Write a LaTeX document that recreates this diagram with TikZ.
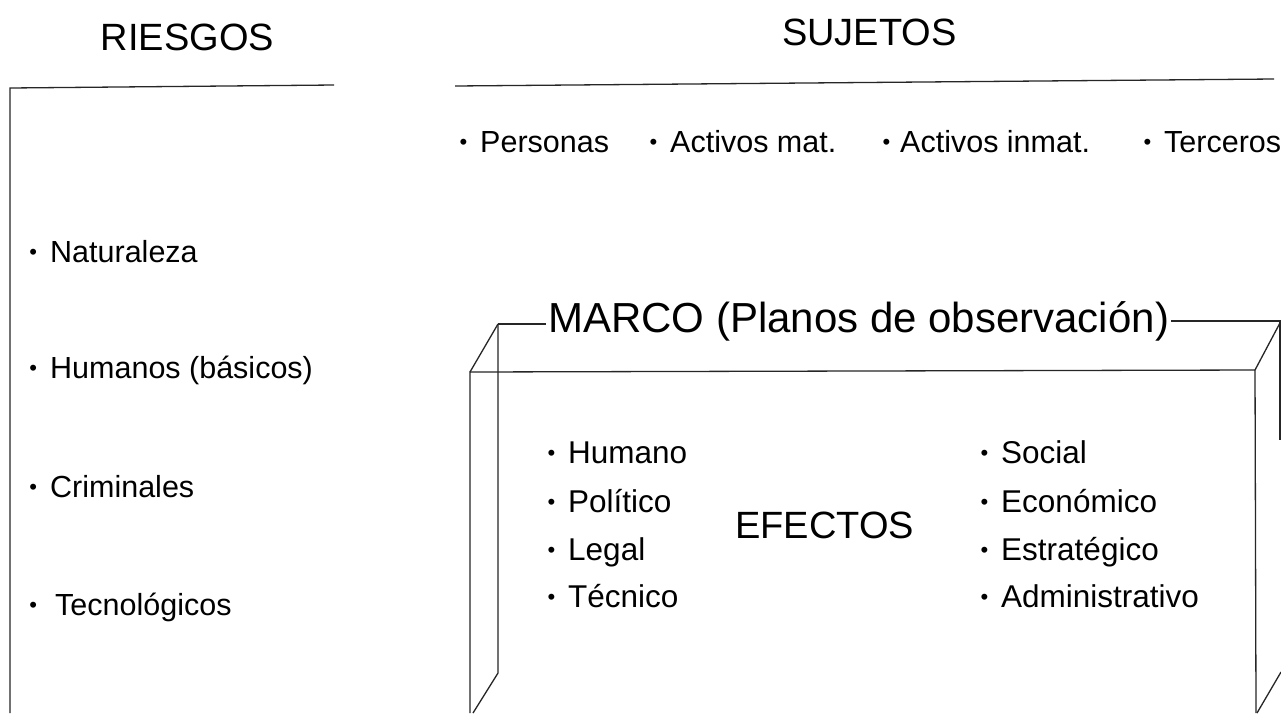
\documentclass[tikz,border=0pt]{standalone}
\usepackage{fontspec}
\setmainfont{Liberation Sans}
\newcommand{\bulg}[1]{\llap{\fontsize{22pt}{22pt}\selectfont\raisebox{2.5pt}{•}\hspace{#1}}}
\newcommand{\bul}{\bulg{13pt}}
\tikzset{
  ln/.style={line width=1.3pt, draw=black!85},
  ttl/.style={inner sep=0pt, anchor=base, font=\fontsize{38pt}{41pt}\selectfont},
  itm/.style={inner sep=0pt, anchor=base west, font=\fontsize{30.5pt}{33pt}\selectfont},
  eit/.style={inner sep=0pt, anchor=base west, font=\fontsize{31.5pt}{34pt}\selectfont},
}
\begin{document}
\begin{tikzpicture}[x=1pt,y=-1pt]
\useasboundingbox (0,0) rectangle (1281,713);
\fill[white] (0,0) rectangle (1281,713);

% titles
\node[ttl] (riesgos) at (187.5,50) {RIESGOS};
\node[ttl, anchor=base west] (sujetos) at (782,45) {SUJETOS};

% left box
\coordinate (lb) at (10,713);
\coordinate (ltl) at (10,88);
\coordinate (ltr) at (334,85);
\draw[ln] (lb) -- (ltl) -- (ltr);

% sujetos line
\coordinate (sl) at (455,86);
\coordinate (sr) at (1274,79);
\draw[ln] (sl) -- (sr);

% sujetos row
\node[itm] (personas) at (480,152) {\bul Personas};
\node[itm] (activm) at (670,152) {\bul Activos mat.};
\node[itm] (activi) at (900,152) {\bulg{10pt}Activos inmat.};
\node[itm] (terceros) at (1164,152) {\bul Terceros};

% left list
\node[itm] (natur) at (50,262) {\bul Naturaleza};
\node[itm] (human) at (50,378) {\bul Humanos (básicos)};
\node[itm] (crimi) at (50,497) {\bul Criminales};
\node[itm] (tecno) at (55,615) {\bulg{18pt}Tecnológicos};

% box
\coordinate (ftl) at (470,372);
\coordinate (ftr) at (1255,370);
\coordinate (fbl) at (470,713);
\coordinate (fbr) at (1256,713);
\coordinate (btl) at (498,324);
\coordinate (btr) at (1281,321);
\coordinate (bbl) at (498,673);
\coordinate (bbr) at (1281,672);
\coordinate (bvt) at (1280,321);
\coordinate (bvr) at (1280,440);
\coordinate (dbl) at (473,713);
\coordinate (dbr) at (1257,713);

\node[inner sep=2pt, anchor=base west, font=\fontsize{42pt}{46pt}\selectfont] (marco) at (546,332) {MARCO (Planos de observación)};

\draw[ln] (fbl) -- (ftl) -- (ftr) -- (fbr);
\draw[ln] (ftl) -- (btl);
\draw[ln] (ftr) -- (btr);
\draw[ln] (btl) -- (btl -| marco.west);
\draw[ln] (marco.east |- btr) -- (btr);
\draw[ln] (btl) -- (bbl) -- (dbl);
\draw[ln] (dbr) -- (bbr);
\draw[ln] (bvt) -- (bvr);

% effects
\node[eit] (e1) at (568,463) {\bul Humano};
\node[eit] (e2) at (568,512) {\bul Político};
\node[eit] (e3) at (568,560) {\bul Legal};
\node[eit] (e4) at (568,607) {\bul Técnico};
\node[inner sep=0pt, anchor=base west, font=\fontsize{38pt}{42pt}\selectfont] (efectos) at (735,538) {EFECTOS};
\node[eit] (e5) at (1001,463) {\bul Social};
\node[eit] (e6) at (1001,512) {\bul Económico};
\node[eit] (e7) at (1001,560) {\bul Estratégico};
\node[eit] (e8) at (1001,607) {\bul Administrativo};
\end{tikzpicture}
\end{document}
